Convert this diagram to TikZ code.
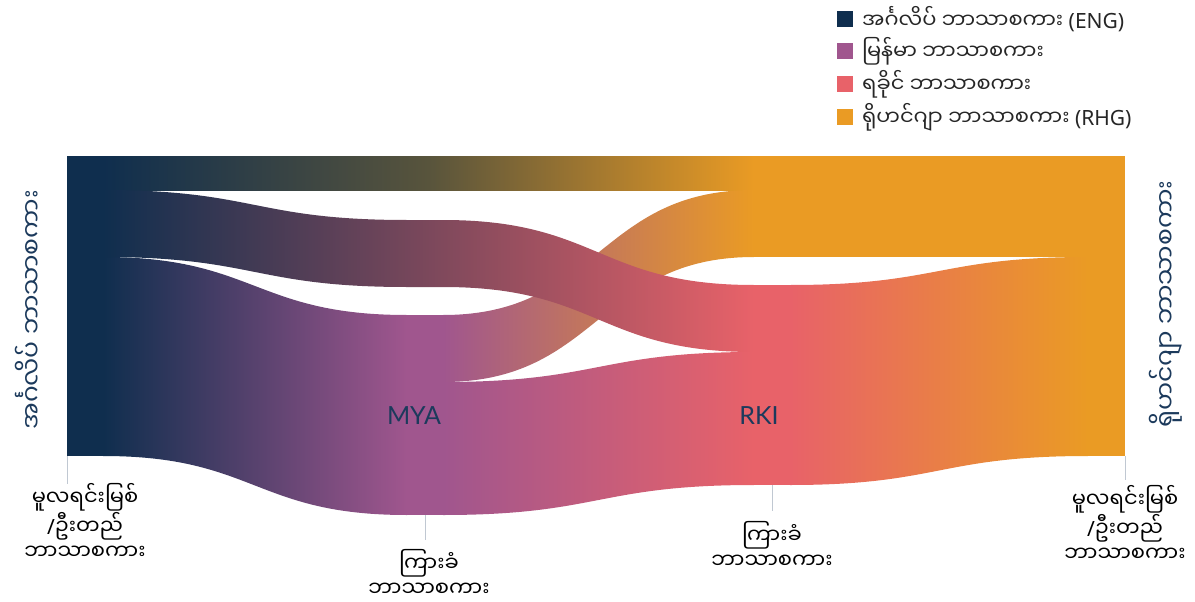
\documentclass[tikz,border=0pt]{standalone}
\usepackage{fontspec}
\setmainfont{Noto Sans}
\newfontfamily\my[Script=Myanmar]{Noto Sans Myanmar UI}
\newfontfamily\lat{Lato}
\newcommand\slashtxt{{\rmfamily /}}
\definecolor{cEng}{RGB}{15,46,78}
\definecolor{cMya}{RGB}{160,86,142}
\definecolor{cRki}{RGB}{232,98,105}
\definecolor{cRhg}{RGB}{234,155,36}
\definecolor{cTopMid}{RGB}{88,84,60}
\definecolor{cTick}{RGB}{192,200,210}
\definecolor{cAxis}{RGB}{28,58,92}
\newcommand\sankeyband[8]{%
  \shade[left color=#7,right color=#8]
    (#1,#2) .. controls ({(#1+#4)/2},#2) and ({(#1+#4)/2},#5) .. (#4,#5)
    -- (#4,#6) .. controls ({(#1+#4)/2},#6) and ({(#1+#4)/2},#3) .. (#1,#3) -- cycle;}
\tikzset{
  legbox/.style={minimum size=16pt,inner sep=0pt,outer sep=0pt},
  legtext/.style={anchor=west,inner sep=0pt,text=black!85,font=\fontsize{21}{24}\selectfont},
  botlabel/.style={anchor=north,align=center,inner sep=0pt,text=black,font=\my\fontsize{21}{25.5}\selectfont},
  axislabel/.style={rotate=90,inner sep=0pt,text=cAxis,font=\my\fontsize{25}{28}\selectfont},
  nodelabel/.style={inner sep=0pt,text=cAxis,font=\lat\fontsize{25}{28}\selectfont},
  tickline/.style={draw=cTick,line width=1pt}
}
\begin{document}
\begin{tikzpicture}[x=1pt,y=-1pt]
\useasboundingbox (0,0) rectangle (1195,602);
% bands
\shade[left color=cEng,right color=cRhg,middle color=cTopMid] (103,156) rectangle (754,190);
\sankeyband{103}{257}{456}{407}{315}{515}{cEng}{cMya}
\sankeyband{443}{382}{515}{754}{352}{485}{cMya}{cRki}
\sankeyband{443}{315}{382}{754}{190}{257}{cMya}{cRhg}
\shade[left color=cEng,right color=cRki]
  (103,190) .. controls (255,190) and (255,220) .. (407,220) -- (443,220)
  .. controls (598.5,220) and (598.5,285) .. (754,285) -- (754,352)
  .. controls (598.5,352) and (598.5,287) .. (443,287) -- (407,287)
  .. controls (255,287) and (255,257) .. (103,257) -- cycle;
\sankeyband{790}{285}{485}{1088}{257}{456}{cRki}{cRhg}
\fill[cRhg] (790,156) rectangle (1088,257);
% nodes
\fill[cEng] (67,156) rectangle (103,456);
\fill[cMya] (407,315) rectangle (443,515);
\fill[cRhg] (754,156) rectangle (790,257);
\fill[cRki] (754,285) rectangle (790,485);
\fill[cRhg] (1088,156) rectangle (1125,456);
\node[nodelabel] (mya) at (414,416) {MYA};
\node[nodelabel] (rki) at (759,416) {RKI};
% ticks
\draw[tickline] (67,456) -- (67,484);
\draw[tickline] (425,515) -- (425,540);
\draw[tickline] (772,485) -- (772,511);
\draw[tickline] (1125,456) -- (1125,480);
% axis labels
\node[botlabel] (l1) at (85,483) {မူလရင်းမြစ်\\\slashtxt ဦးတည်\\ဘာသာစကား};
\node[botlabel] (l2) at (429,549) {ကြားခံ\\ဘာသာစကား};
\node[botlabel] (l3) at (772,521) {ကြားခံ\\ဘာသာစကား};
\node[botlabel] (l4) at (1125,485) {မူလရင်းမြစ်\\\slashtxt ဦးတည်\\ဘာသာစကား};
\node[axislabel] (ya) at (28,310) {အင်္ဂလိပ် ဘာသာစကား};
\node[axislabel] (yb) at (1166,304) {ရိုဟင်ဂျာ ဘာသာစကား};
% legend
\node[legbox,fill=cEng] (k1) at (845,19) {};
\node[legbox,fill=cMya] (k2) at (845,51.5) {};
\node[legbox,fill=cRki] (k3) at (845,84) {};
\node[legbox,fill=cRhg] (k4) at (845,117) {};
\node[legtext] (t1) at (862,19) {{\my အင်္ဂလိပ် ဘာသာစကား} (ENG)};
\node[legtext] (t2) at (862,51.5) {{\my မြန်မာ ဘာသာစကား}};
\node[legtext] (t3) at (862,84) {{\my ရခိုင် ဘာသာစကား}};
\node[legtext] (t4) at (862,117) {{\my ရိုဟင်ဂျာ ဘာသာစကား} (RHG)};
\end{tikzpicture}
\end{document}
